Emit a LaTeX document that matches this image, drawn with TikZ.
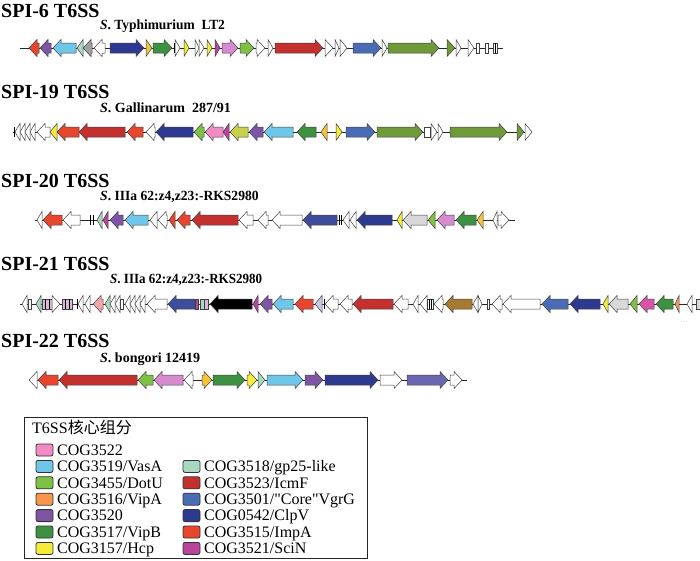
\documentclass[tikz,border=0pt]{standalone}
\usepackage{graphicx}
\usepackage{fontspec}
\setmainfont{Liberation Serif}
\newfontfamily\cjk{Noto Sans CJK SC}
\definecolor{cImpA}{HTML}{E8452F}
\definecolor{cIcmF}{HTML}{C3302E}
\definecolor{cNavy}{HTML}{2E3990}
\definecolor{cNavyB}{HTML}{3F4C9C}
\definecolor{cVgrG}{HTML}{4A6CB4}
\definecolor{cCyan}{HTML}{6EC6E8}
\definecolor{cPur}{HTML}{7E55A3}
\definecolor{cMint}{HTML}{A8D8BE}
\definecolor{cLtGreen}{HTML}{7DC242}
\definecolor{cDkGreen}{HTML}{3D9140}
\definecolor{cOlive}{HTML}{6E9A3A}
\definecolor{cYellow}{HTML}{F5EB3B}
\definecolor{cGold}{HTML}{F8C33C}
\definecolor{cOrange}{HTML}{F5964A}
\definecolor{cMag}{HTML}{B8459A}
\definecolor{cPink}{HTML}{F18BC4}
\definecolor{cOrchid}{HTML}{D68BCF}
\definecolor{cPinkMag}{HTML}{D655A8}
\definecolor{cGray}{HTML}{A0A0A0}
\definecolor{cLtGray}{HTML}{D8D8D8}
\definecolor{cBrown}{HTML}{A57A32}
\definecolor{cLav}{HTML}{C8C8E8}
\definecolor{cLilac}{HTML}{D8B8D8}
\definecolor{cSalmon}{HTML}{F4A6A6}
\definecolor{cLime}{HTML}{C9D14A}
\definecolor{cSlate}{HTML}{6A66B0}
\tikzset{
  genestyle/.style={draw=black!75,line width=0.5pt,line join=miter},
  backbone/.style={draw=black!85,line width=1pt},
  titlestyle/.style={anchor=base west,inner sep=0pt,font=\fontsize{20}{20}\selectfont\bfseries},
  strainstyle/.style={anchor=base west,inner sep=0pt,font=\fontsize{14}{14}\selectfont\bfseries},
  legtext/.style={anchor=base west,inner sep=0pt,font=\fontsize{16}{16}\selectfont},
  swatch/.style={draw=black!80,line width=0.8pt,rounded corners=2pt}
}
\newcommand\gene[3]{%
  \pgfmathsetmacro\gd{#3-#2}%
  \pgfmathsetmacro\gh{((\gd>0)-(\gd<0))*min(8,abs(\gd))}%
  \pgfmathsetmacro\gx{#3-\gh}%
  \draw[genestyle,fill=#1] (#2,\ry-5) -- (\gx,\ry-5) -- (\gx,\ry-8.5) -- (#3,\ry) -- (\gx,\ry+8.5) -- (\gx,\ry+5) -- (#2,\ry+5) -- cycle;%
}
\newcommand\genebox[3]{\draw[genestyle,fill=#1] (#2,\ry-5) rectangle (#3,\ry+5);}
\newcommand\gtick[1]{\draw[line width=0.8pt] (#1,\ry-5) -- (#1,\ry+5);}
\newcommand\legrow[4]{% x, row, color, text
  \pgfmathsetmacro\ly{450+16.4*#2}%
  \draw[swatch,fill=#3] (#1,\ly-6) rectangle (#1+17,\ly+6);
  \node[legtext] at (#1+21,\ly+5.3) {#4};%
}
\begin{document}
\begin{tikzpicture}[x=1pt,y=-1pt]
\useasboundingbox (0,0) rectangle (700,560);
% ---------- SPI-6 ----------
\node[titlestyle] (t6) at (1,17) {SPI-6 T6SS};
\node[strainstyle] (s6) at (100,29) {\scalebox{0.96}[1]{\textit{S}. Typhimurium\ \ LT2}};
\def\ry{48}
\draw[backbone] (20,\ry) -- (503,\ry);
\gene{cImpA}{39}{29}
\gene{cPur}{51}{40}
\gene{cCyan}{76}{53}
\gene{cMint}{83}{77}
\gene{cGray}{92}{83}
\gene{white}{105}{94}
\gene{cNavy}{110}{144}
\gene{cGold}{146}{152}
\gene{cDkGreen}{153}{172}
\gtick{174}
\gene{white}{175}{180}
\gene{cYellow}{184}{189}
\gene{white}{195}{199}
\gene{white}{199}{204}
\gene{cYellow}{207}{212}
\gene{cMag}{215}{220}
\gene{cOrchid}{222}{238}
\gene{cLtGreen}{240}{254}
\gene{white}{256}{265}
\gene{white}{268}{273}
\gene{cIcmF}{275}{323}
\gene{white}{325}{333}
\gene{white}{335}{339}
\gene{white}{340}{347}
\gene{cVgrG}{353}{381}
\gene{white}{382}{387}
\gene{cOlive}{388}{439}
\gene{cOlive}{447}{455}
\gene{white}{456}{461}
\gene{white}{468}{474}
\genebox{white}{476}{479}
\genebox{white}{485}{488}
\genebox{white}{493}{497}
\gtick{495}
% ---------- SPI-19 ----------
\node[titlestyle] (t19) at (1,98) {SPI-19 T6SS};
\node[strainstyle] (s19) at (100,112) {\textit{S}. Gallinarum\ \ 287/91};
\def\ry{132}
\draw[backbone] (13,\ry) -- (532,\ry);
\gtick{14}
\gene{white}{20}{15}
\gene{white}{25}{20}
\gene{white}{30}{25}
\gene{white}{35}{30}
\gene{white}{50}{37}
\gene{cYellow}{57}{50}
\gene{cImpA}{79}{57}
\gene{cIcmF}{125}{79}
\gene{cImpA}{143}{127}
\gene{white}{155}{146}
\gene{cNavy}{193}{156}
\gene{cLtGreen}{204}{194}
\gene{cPink}{223}{205}
\gene{cMag}{229}{223}
\gene{cLime}{248}{230}
\gene{cPur}{263}{249}
\gene{cCyan}{293}{264}
\gene{cDkGreen}{316}{297}
\gene{cGold}{327}{321}
\gene{cYellow}{336}{342}
\gene{cVgrG}{346}{375}
\gene{cOlive}{377}{423}
\genebox{white}{424}{430}
\gene{white}{431}{437}
\gene{white}{438}{443}
\gene{cOlive}{450}{507}
\gene{cOlive}{517}{524}
\gene{white}{525}{532}
% ---------- SPI-20 ----------
\node[titlestyle] (t20) at (1,187) {SPI-20 T6SS};
\node[strainstyle] (s20) at (100,200) {\scalebox{0.97}[1]{\textit{S}. IIIa 62:z4,z23:-RKS2980}};
\def\ry{220}
\draw[backbone] (35,\ry) -- (515,\ry);
\gene{white}{42}{37}
\gene{cImpA}{62}{43}
\gene{white}{80}{63}
\gtick{90}
\gtick{93}
\gene{cMint}{102}{97}
\gene{cMag}{108}{103}
\gene{cPur}{123}{110}
\gene{cCyan}{148}{125}
\gene{white}{157}{150}
\gene{white}{167}{158}
\gene{cImpA}{175}{169}
\gene{cImpA}{190}{177}
\gene{cIcmF}{238}{192}
\gene{white}{253}{239}
\gene{white}{268}{258}
\gene{white}{302}{272}
\gene{cNavyB}{337}{303}
\gtick{339}
\gtick{341}
\gene{white}{349}{343}
\gene{white}{356}{350}
\gene{cNavy}{392}{357}
\gene{cYellow}{402}{397}
\gene{cLtGray}{427}{403}
\gene{cLtGreen}{435}{428}
\gene{cOrchid}{454}{437}
\gene{cDkGreen}{476}{456}
\gene{cGold}{483}{477}
\gene{white}{497}{493}
\gene{white}{498}{509}
% ---------- SPI-21 ----------
\node[titlestyle] (t21) at (1,270) {SPI-21 T6SS};
\node[strainstyle] (s21) at (110,283) {\scalebox{0.93}[1]{\textit{S}. IIIa 62:z4,z23:-RKS2980}};
\def\ry{304}
\draw[backbone] (20,\ry) -- (700,\ry);
\gene{white}{27}{22}
\genebox{white}{28}{31}
\gene{cMint}{41}{36}
\genebox{cLilac}{42}{52}
\gtick{45}
\gtick{49}
\gene{white}{52}{60}
\genebox{cLilac}{62}{72}
\gtick{65}
\gtick{69}
\gtick{77}
\gene{white}{83}{78}
\gene{white}{90}{85}
\gene{cSalmon}{103}{93}
\gene{cMint}{110}{105}
\gene{white}{115}{110}
\gene{white}{120}{115}
\genebox{white}{120.5}{123}
\gene{white}{130}{125}
\gene{white}{135}{130}
\gene{white}{140}{135}
\gene{white}{145}{140}
\gene{white}{167}{147}
\gene{cNavyB}{195}{168}
\genebox{cMag}{195}{198}
\genebox{cMint}{200}{204}
\genebox{cLilac}{204}{208}
\gene{black}{252}{210}
\gene{cMag}{258}{253}
\gene{cPur}{272}{260}
\gene{cCyan}{293}{273}
\gene{cImpA}{313}{295}
\gene{cLav}{322}{315}
\gtick{324}
\gene{white}{338}{325}
\gene{white}{352}{340}
\gene{cIcmF}{393}{353}
\gene{white}{408}{394}
\gene{white}{418}{413}
\gene{white}{427}{420}
\genebox{white}{427}{433}
\gtick{429}
\gtick{431}
\gene{white}{443}{434}
\gene{cBrown}{472}{445}
\gene{white}{478}{473}
\gene{white}{478}{482}
\genebox{white}{487}{489}
\gene{white}{502}{492}
\gene{white}{540}{503}
\gene{cVgrG}{568}{542}
\gene{cNavy}{600}{570}
\gene{cYellow}{608}{603}
\gene{cLtGray}{628}{609}
\gene{cLtGreen}{637}{630}
\gene{cPinkMag}{654}{639}
\gene{cDkGreen}{673}{656}
\gene{cOrange}{679}{675}
\gene{white}{692}{687}
\genebox{cLtGray}{696}{700}
\node[inner sep=0pt,text=black!35,font=\fontsize{6}{6}\selectfont] (dots) at (684,322) {.\,.\,.};
% ---------- SPI-22 ----------
\node[titlestyle] (t22) at (1,347) {SPI-22 T6SS};
\node[strainstyle] (s22) at (100,362) {\textit{S}. bongori 12419};
\def\ry{380}
\draw[backbone] (29,\ry) -- (467,\ry);
\gene{white}{37}{29}
\gene{cImpA}{58}{38}
\gene{cIcmF}{137}{59}
\gene{cLtGreen}{153}{138}
\gene{cOrchid}{183}{154}
\gene{white}{193}{184}
\gene{cGold}{202}{212}
\gene{cDkGreen}{213}{245}
\gene{cYellow}{247}{257}
\gene{cMint}{258}{265}
\gene{cCyan}{267}{303}
\gene{cPur}{305}{323}
\gene{cNavy}{325}{378}
\gene{white}{380}{402}
\gene{cSlate}{407}{448}
\gene{white}{450}{462}
% ---------- Legend ----------
\draw[line width=0.8pt,draw=black!85] (24,417) rectangle (367,558);
\node[legtext] (lh) at (32,433) {T6SS{\cjk 核心组分}};
\legrow{36}{0}{cPink}{COG3522}
\legrow{36}{1}{cCyan}{COG3519/VasA}
\legrow{36}{2}{cLtGreen}{COG3455/DotU}
\legrow{36}{3}{cOrange}{COG3516/VipA}
\legrow{36}{4}{cPur}{COG3520}
\legrow{36}{5}{cDkGreen}{COG3517/VipB}
\legrow{36}{6}{cYellow}{COG3157/Hcp}
\legrow{183}{1}{cMint}{COG3518/gp25-like}
\legrow{183}{2}{cIcmF}{COG3523/IcmF}
\legrow{183}{3}{cVgrG}{{\addfontfeature{Ligatures=TeXOff}COG3501/"Core"VgrG}}
\legrow{183}{4}{cNavy}{COG0542/ClpV}
\legrow{183}{5}{cImpA}{COG3515/ImpA}
\legrow{183}{6}{cMag}{COG3521/SciN}
\end{tikzpicture}
\end{document}
